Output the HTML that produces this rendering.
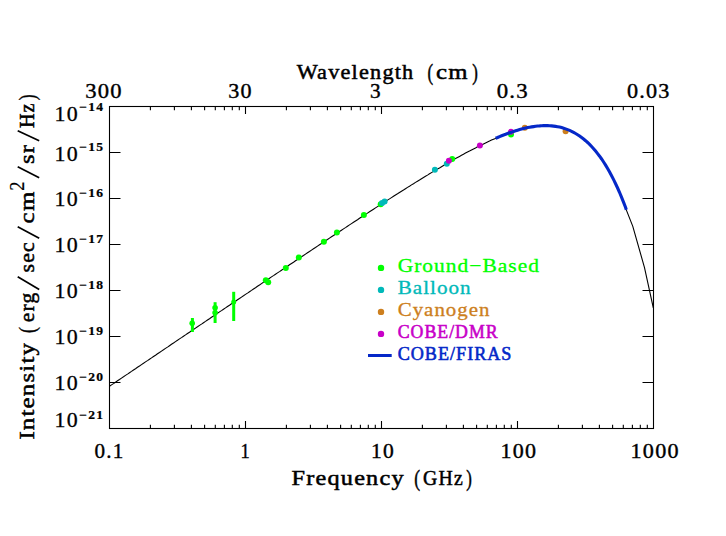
<!DOCTYPE html>
<html><head><meta charset="utf-8"><title>CMB spectrum</title>
<style>html,body{margin:0;padding:0;background:#fff;}svg{display:block;}</style></head>
<body>
<svg width="726" height="536" viewBox="0 0 726 536">
<rect width="726" height="536" fill="#fff"/>
<path d="M109.5,386.3 L111.5,384.9 L113.5,383.6 L115.5,382.2 L117.5,380.8 L119.5,379.5 L121.5,378.1 L123.5,376.8 L125.5,375.4 L127.5,374.1 L129.5,372.7 L131.5,371.4 L133.5,370.0 L135.5,368.7 L137.5,367.3 L139.5,366.0 L141.5,364.6 L143.5,363.3 L145.5,361.9 L147.5,360.6 L149.5,359.2 L151.5,357.9 L153.5,356.5 L155.5,355.2 L157.5,353.8 L159.5,352.5 L161.5,351.1 L163.5,349.8 L165.5,348.4 L167.5,347.1 L169.5,345.7 L171.5,344.3 L173.5,343.0 L175.5,341.6 L177.5,340.3 L179.5,338.9 L181.5,337.6 L183.5,336.2 L185.5,334.9 L187.5,333.5 L189.5,332.2 L191.5,330.8 L193.5,329.5 L195.5,328.1 L197.5,326.8 L199.5,325.4 L201.5,324.1 L203.5,322.7 L205.5,321.4 L207.5,320.0 L209.5,318.7 L211.5,317.3 L213.5,316.0 L215.5,314.6 L217.5,313.3 L219.5,311.9 L221.5,310.6 L223.5,309.2 L225.5,307.9 L227.5,306.5 L229.5,305.2 L231.5,303.8 L233.5,302.5 L235.5,301.2 L237.5,299.8 L239.5,298.5 L241.5,297.1 L243.5,295.8 L245.5,294.4 L247.5,293.1 L249.5,291.7 L251.5,290.4 L253.5,289.0 L255.5,287.7 L257.5,286.3 L259.5,285.0 L261.5,283.6 L263.5,282.3 L265.5,281.0 L267.5,279.6 L269.5,278.3 L271.5,276.9 L273.5,275.6 L275.5,274.2 L277.5,272.9 L279.5,271.6 L281.5,270.2 L283.5,268.9 L285.5,267.5 L287.5,266.2 L289.5,264.8 L291.5,263.5 L293.5,262.2 L295.5,260.8 L297.5,259.5 L299.5,258.1 L301.5,256.8 L303.5,255.5 L305.5,254.1 L307.5,252.8 L309.5,251.5 L311.5,250.1 L313.5,248.8 L315.5,247.5 L317.5,246.1 L319.5,244.8 L321.5,243.5 L323.5,242.1 L325.5,240.8 L327.5,239.5 L329.5,238.1 L331.5,236.8 L333.5,235.5 L335.5,234.2 L337.5,232.8 L339.5,231.5 L341.5,230.2 L343.5,228.9 L345.5,227.6 L347.5,226.2 L349.5,224.9 L351.5,223.6 L353.5,222.3 L355.5,221.0 L357.5,219.7 L359.5,218.3 L361.5,217.0 L363.5,215.7 L365.5,214.4 L367.5,213.1 L369.5,211.8 L371.5,210.5 L373.5,209.2 L375.5,207.9 L377.5,206.6 L379.5,205.3 L381.5,204.0 L383.5,202.7 L385.5,201.4 L387.5,200.1 L389.5,198.9 L391.5,197.6 L393.5,196.3 L395.5,195.0 L397.5,193.8 L399.5,192.5 L401.5,191.2 L403.5,190.0 L405.5,188.7 L407.5,187.4 L409.5,186.2 L411.5,184.9 L413.5,183.7 L415.5,182.4 L417.5,181.2 L419.5,180.0 L421.5,178.7 L423.5,177.5 L425.5,176.3 L427.5,175.1 L429.5,173.8 L431.5,172.6 L433.5,171.4 L435.5,170.2 L437.5,169.0 L439.5,167.9 L441.5,166.7 L443.5,165.5 L445.5,164.3 L447.5,163.2 L449.5,162.0 L451.5,160.9 L453.5,159.7 L455.5,158.6 L457.5,157.5 L459.5,156.4 L461.5,155.3 L463.5,154.2 L465.5,153.1 L467.5,152.0 L469.5,151.0 L471.5,149.9 L473.5,148.9 L475.5,147.9 L477.5,146.8 L479.5,145.8 L481.5,144.9 L483.5,143.9 L485.5,142.9 L487.5,142.0 L489.5,141.1 L491.5,140.1 L493.5,139.2 L495.5,138.4 L497.5,137.5 L499.5,136.7 L501.5,135.9 L503.5,135.1 L505.5,134.3 L507.5,133.6 L509.5,132.8 L511.5,132.1 L513.5,131.5 L515.5,130.8 L517.5,130.2 L519.5,129.6 L521.5,129.1 L523.5,128.6 L525.5,128.1 L527.5,127.7 L529.5,127.3 L531.5,126.9 L533.5,126.6 L535.5,126.3 L537.5,126.1 L539.5,125.9 L541.5,125.7 L543.5,125.6 L545.5,125.6 L547.5,125.6 L549.5,125.7 L551.5,125.9 L553.5,126.1 L555.5,126.3 L557.5,126.7 L559.5,127.1 L561.5,127.6 L563.5,128.2 L565.5,128.8 L567.5,129.6 L569.5,130.4 L571.5,131.3 L573.5,132.3 L575.5,133.4 L577.5,134.6 L579.5,136.0 L581.5,137.4 L583.5,138.9 L585.5,140.6 L587.5,142.4 L589.5,144.3 L591.5,146.4 L593.5,148.6 L595.5,150.9 L597.5,153.4 L599.5,156.1 L601.5,158.9 L603.5,161.8 L605.5,165.0 L607.5,168.3 L609.5,171.8 L611.5,175.5 L613.5,179.4 L615.5,183.5 L617.5,187.8 L619.5,192.3 L621.5,197.1 L623.5,202.0 L626.3,209.9 L632.8,226.4 L644.5,267.6 L653.3,307.8" fill="none" stroke="#000" stroke-width="1.1"/>
<rect x="190.9" y="318.0" width="3" height="14.0" fill="#00ff00"/>
<rect x="213.6" y="302.2" width="3" height="20.8" fill="#00ff00"/>
<rect x="232.2" y="291.8" width="3" height="29.2" fill="#00ff00"/>
<circle cx="192.2" cy="323.3" r="2.8" fill="#00ff00"/>
<circle cx="215.1" cy="307.8" r="2.8" fill="#00ff00"/>
<circle cx="215.1" cy="312.7" r="2.8" fill="#00ff00"/>
<circle cx="233.7" cy="302.1" r="2.5" fill="#00ff00"/>
<circle cx="265.8" cy="280.3" r="3.0" fill="#00ff00"/>
<circle cx="268.2" cy="282.3" r="3.0" fill="#00ff00"/>
<circle cx="285.8" cy="268.0" r="3.0" fill="#00ff00"/>
<circle cx="298.8" cy="257.6" r="3.0" fill="#00ff00"/>
<circle cx="323.9" cy="241.7" r="3.0" fill="#00ff00"/>
<circle cx="336.9" cy="232.4" r="3.0" fill="#00ff00"/>
<circle cx="363.9" cy="215.1" r="3.0" fill="#00ff00"/>
<circle cx="380.7" cy="204.2" r="3.0" fill="#00ff00"/>
<circle cx="452.2" cy="159.1" r="3.0" fill="#00ff00"/>
<circle cx="511.0" cy="134.4" r="3.0" fill="#00ff00"/>
<circle cx="524.8" cy="127.8" r="3.0" fill="#cd7f1e"/>
<circle cx="565.6" cy="131.2" r="3.0" fill="#cd7f1e"/>
<circle cx="382.1" cy="203.1" r="3.0" fill="#00b9b9"/>
<circle cx="384.6" cy="201.5" r="3.0" fill="#00b9b9"/>
<circle cx="434.9" cy="169.8" r="3.0" fill="#00b9b9"/>
<circle cx="446.8" cy="163.7" r="3.0" fill="#00b9b9"/>
<circle cx="448.9" cy="160.8" r="3.0" fill="#c800c8"/>
<circle cx="479.9" cy="145.4" r="3.0" fill="#c800c8"/>
<circle cx="510.9" cy="131.8" r="3.0" fill="#c800c8"/>
<path d="M495.6,138.3 L497.6,137.5 L499.6,136.6 L501.6,135.8 L503.6,135.0 L505.6,134.3 L507.6,133.5 L509.6,132.8 L511.6,132.1 L513.6,131.4 L515.6,130.8 L517.6,130.2 L519.6,129.6 L521.6,129.1 L523.6,128.6 L525.6,128.1 L527.6,127.6 L529.6,127.2 L531.6,126.9 L533.6,126.6 L535.6,126.3 L537.6,126.0 L539.6,125.9 L541.6,125.7 L543.6,125.6 L545.6,125.6 L547.6,125.6 L549.6,125.7 L551.6,125.9 L553.6,126.1 L555.6,126.4 L557.6,126.7 L559.6,127.1 L561.6,127.6 L563.6,128.2 L565.6,128.9 L567.6,129.6 L569.6,130.4 L571.6,131.3 L573.6,132.4 L575.6,133.5 L577.6,134.7 L579.6,136.0 L581.6,137.5 L583.6,139.0 L585.6,140.7 L587.6,142.5 L589.6,144.4 L591.6,146.5 L593.6,148.7 L595.6,151.1 L597.6,153.6 L599.6,156.2 L601.6,159.0 L603.6,162.0 L605.6,165.1 L607.6,168.5 L609.6,172.0 L611.6,175.7 L613.6,179.6 L615.6,183.7 L617.6,188.0 L619.6,192.5 L621.6,197.3 L623.6,202.3 L625.6,207.5 L626.3,209.8" fill="none" stroke="#0528c8" stroke-width="3.1" stroke-linecap="butt"/>
<rect x="109.5" y="106.5" width="544.0" height="322.0" fill="none" stroke="#000" stroke-width="1.1"/>
<path d="M150.4,428.5v-3.8M150.4,106.5v3.8M174.4,428.5v-3.8M174.4,106.5v3.8M191.4,428.5v-3.8M191.4,106.5v3.8M204.6,428.5v-3.8M204.6,106.5v3.8M215.3,428.5v-3.8M215.3,106.5v3.8M224.4,428.5v-3.8M224.4,106.5v3.8M232.3,428.5v-3.8M232.3,106.5v3.8M239.3,428.5v-3.8M239.3,106.5v3.8M245.5,428.5v-7.5M245.5,106.5v7.5M286.4,428.5v-3.8M286.4,106.5v3.8M310.4,428.5v-3.8M310.4,106.5v3.8M327.4,428.5v-3.8M327.4,106.5v3.8M340.6,428.5v-3.8M340.6,106.5v3.8M351.3,428.5v-3.8M351.3,106.5v3.8M360.4,428.5v-3.8M360.4,106.5v3.8M368.3,428.5v-3.8M368.3,106.5v3.8M375.3,428.5v-3.8M375.3,106.5v3.8M381.5,428.5v-7.5M381.5,106.5v7.5M422.4,428.5v-3.8M422.4,106.5v3.8M446.4,428.5v-3.8M446.4,106.5v3.8M463.4,428.5v-3.8M463.4,106.5v3.8M476.6,428.5v-3.8M476.6,106.5v3.8M487.3,428.5v-3.8M487.3,106.5v3.8M496.4,428.5v-3.8M496.4,106.5v3.8M504.3,428.5v-3.8M504.3,106.5v3.8M511.3,428.5v-3.8M511.3,106.5v3.8M517.5,428.5v-7.5M517.5,106.5v7.5M558.4,428.5v-3.8M558.4,106.5v3.8M582.4,428.5v-3.8M582.4,106.5v3.8M599.4,428.5v-3.8M599.4,106.5v3.8M612.6,428.5v-3.8M612.6,106.5v3.8M623.3,428.5v-3.8M623.3,106.5v3.8M632.4,428.5v-3.8M632.4,106.5v3.8M640.3,428.5v-3.8M640.3,106.5v3.8M647.3,428.5v-3.8M647.3,106.5v3.8M109.5,152.5h11M653.5,152.5h-11M109.5,198.5h11M653.5,198.5h-11M109.5,244.5h11M653.5,244.5h-11M109.5,290.5h11M653.5,290.5h-11M109.5,336.5h11M653.5,336.5h-11M109.5,382.5h11M653.5,382.5h-11" fill="none" stroke="#000" stroke-width="1.1"/>
<text transform="translate(94.5,458) scale(1.030,1)" font-family="Liberation Serif, serif" font-size="20.5" font-weight="normal" fill="#000" stroke="#000" stroke-width="0.38" textLength="27.95" lengthAdjust="spacing">0.1</text>
<text transform="translate(240.6,458) scale(0.898,1)" font-family="Liberation Serif, serif" font-size="20.5" font-weight="normal" fill="#000" stroke="#000" stroke-width="0.38">1</text>
<text transform="translate(371,458) scale(1.049,1)" font-family="Liberation Serif, serif" font-size="20.5" font-weight="normal" fill="#000" stroke="#000" stroke-width="0.38" textLength="21.64" lengthAdjust="spacing">10</text>
<text transform="translate(500.6,458) scale(1.073,1)" font-family="Liberation Serif, serif" font-size="20.5" font-weight="normal" fill="#000" stroke="#000" stroke-width="0.38" textLength="32.99" lengthAdjust="spacing">100</text>
<text transform="translate(630.6,458) scale(1.080,1)" font-family="Liberation Serif, serif" font-size="20.5" font-weight="normal" fill="#000" stroke="#000" stroke-width="0.38" textLength="44.33" lengthAdjust="spacing">1000</text>
<text transform="translate(85.2,98) scale(1.102,1)" font-family="Liberation Serif, serif" font-size="20.5" font-weight="normal" fill="#000" stroke="#000" stroke-width="0.38" textLength="32.93" lengthAdjust="spacing">300</text>
<text transform="translate(228.2,98) scale(1.078,1)" font-family="Liberation Serif, serif" font-size="20.5" font-weight="normal" fill="#000" stroke="#000" stroke-width="0.38" textLength="21.61" lengthAdjust="spacing">30</text>
<text transform="translate(370,98) scale(1.034,1)" font-family="Liberation Serif, serif" font-size="20.5" font-weight="normal" fill="#000" stroke="#000" stroke-width="0.38">3</text>
<text transform="translate(496.7,98) scale(1.112,1)" font-family="Liberation Serif, serif" font-size="20.5" font-weight="normal" fill="#000" stroke="#000" stroke-width="0.38" textLength="27.78" lengthAdjust="spacing">0.3</text>
<text transform="translate(627,98) scale(1.082,1)" font-family="Liberation Serif, serif" font-size="20.5" font-weight="normal" fill="#000" stroke="#000" stroke-width="0.38" textLength="39.20" lengthAdjust="spacing">0.03</text>
<text transform="translate(296.7,78.8) scale(1.060,1)" font-family="Liberation Serif, serif" font-size="21" font-weight="normal" fill="#000" stroke="#000" stroke-width="0.5" textLength="109.95" lengthAdjust="spacing">Wavelength</text>
<text transform="translate(427.6,79.8) scale(0.701,1)" font-family="Liberation Serif, serif" font-size="24" font-weight="normal" fill="#000" stroke="#000" stroke-width="0.5">(</text>
<text transform="translate(436,78.8) scale(1.180,1)" font-family="Liberation Serif, serif" font-size="21" font-weight="normal" fill="#000" stroke="#000" stroke-width="0.5" textLength="26.78" lengthAdjust="spacing">cm</text>
<text transform="translate(472.2,79.8) scale(0.701,1)" font-family="Liberation Serif, serif" font-size="24" font-weight="normal" fill="#000" stroke="#000" stroke-width="0.5">)</text>
<text transform="translate(291.5,484.5) scale(1.156,1)" font-family="Liberation Serif, serif" font-size="21" font-weight="normal" fill="#000" stroke="#000" stroke-width="0.5" textLength="96.94" lengthAdjust="spacing">Frequency</text>
<text transform="translate(414.2,485.5) scale(0.726,1)" font-family="Liberation Serif, serif" font-size="24" font-weight="normal" fill="#000" stroke="#000" stroke-width="0.5">(</text>
<text transform="translate(423,484.5) scale(0.941,1)" font-family="Liberation Serif, serif" font-size="21" font-weight="normal" fill="#000" stroke="#000" stroke-width="0.5" textLength="42.20" lengthAdjust="spacing">GHz</text>
<text transform="translate(466.2,485.5) scale(0.701,1)" font-family="Liberation Serif, serif" font-size="24" font-weight="normal" fill="#000" stroke="#000" stroke-width="0.5">)</text>
<text transform="translate(54.5,120.8) scale(1.068,1)" font-family="Liberation Serif, serif" font-size="20.5" font-weight="normal" fill="#000" stroke="#000" stroke-width="0.3" textLength="21.62" lengthAdjust="spacing">10</text>
<text transform="translate(79.3,111.2) scale(1.131,1)" font-family="Liberation Serif, serif" font-size="12" font-weight="bold" fill="#000" stroke="#000" stroke-width="0.2" textLength="20.96" lengthAdjust="spacing">−14</text>
<text transform="translate(54.5,160.5) scale(1.068,1)" font-family="Liberation Serif, serif" font-size="20.5" font-weight="normal" fill="#000" stroke="#000" stroke-width="0.3" textLength="21.62" lengthAdjust="spacing">10</text>
<text transform="translate(79.3,150.9) scale(1.131,1)" font-family="Liberation Serif, serif" font-size="12" font-weight="bold" fill="#000" stroke="#000" stroke-width="0.2" textLength="20.96" lengthAdjust="spacing">−15</text>
<text transform="translate(54.5,206.4) scale(1.068,1)" font-family="Liberation Serif, serif" font-size="20.5" font-weight="normal" fill="#000" stroke="#000" stroke-width="0.3" textLength="21.62" lengthAdjust="spacing">10</text>
<text transform="translate(79.3,196.8) scale(1.131,1)" font-family="Liberation Serif, serif" font-size="12" font-weight="bold" fill="#000" stroke="#000" stroke-width="0.2" textLength="20.96" lengthAdjust="spacing">−16</text>
<text transform="translate(54.5,252.4) scale(1.068,1)" font-family="Liberation Serif, serif" font-size="20.5" font-weight="normal" fill="#000" stroke="#000" stroke-width="0.3" textLength="21.62" lengthAdjust="spacing">10</text>
<text transform="translate(79.3,242.8) scale(1.131,1)" font-family="Liberation Serif, serif" font-size="12" font-weight="bold" fill="#000" stroke="#000" stroke-width="0.2" textLength="20.96" lengthAdjust="spacing">−17</text>
<text transform="translate(54.5,298.4) scale(1.068,1)" font-family="Liberation Serif, serif" font-size="20.5" font-weight="normal" fill="#000" stroke="#000" stroke-width="0.3" textLength="21.62" lengthAdjust="spacing">10</text>
<text transform="translate(79.3,288.79999999999995) scale(1.131,1)" font-family="Liberation Serif, serif" font-size="12" font-weight="bold" fill="#000" stroke="#000" stroke-width="0.2" textLength="20.96" lengthAdjust="spacing">−18</text>
<text transform="translate(54.5,344.4) scale(1.068,1)" font-family="Liberation Serif, serif" font-size="20.5" font-weight="normal" fill="#000" stroke="#000" stroke-width="0.3" textLength="21.62" lengthAdjust="spacing">10</text>
<text transform="translate(79.3,334.79999999999995) scale(1.131,1)" font-family="Liberation Serif, serif" font-size="12" font-weight="bold" fill="#000" stroke="#000" stroke-width="0.2" textLength="20.96" lengthAdjust="spacing">−19</text>
<text transform="translate(54.5,390.4) scale(1.068,1)" font-family="Liberation Serif, serif" font-size="20.5" font-weight="normal" fill="#000" stroke="#000" stroke-width="0.3" textLength="21.62" lengthAdjust="spacing">10</text>
<text transform="translate(79.3,380.79999999999995) scale(1.131,1)" font-family="Liberation Serif, serif" font-size="12" font-weight="bold" fill="#000" stroke="#000" stroke-width="0.2" textLength="20.96" lengthAdjust="spacing">−20</text>
<text transform="translate(54.5,427) scale(1.068,1)" font-family="Liberation Serif, serif" font-size="20.5" font-weight="normal" fill="#000" stroke="#000" stroke-width="0.3" textLength="21.62" lengthAdjust="spacing">10</text>
<text transform="translate(79.3,418.9) scale(1.131,1)" font-family="Liberation Serif, serif" font-size="12" font-weight="bold" fill="#000" stroke="#000" stroke-width="0.2" textLength="20.96" lengthAdjust="spacing">−21</text>
<text transform="translate(34,439.6) rotate(-90) scale(1.180,1)" font-family="Liberation Serif, serif" font-size="21" font-weight="normal" fill="#000" stroke="#000" stroke-width="0.5" textLength="81.86" lengthAdjust="spacing">Intensity</text>
<text transform="translate(35,333) rotate(-90) scale(0.726,1)" font-family="Liberation Serif, serif" font-size="24" font-weight="normal" fill="#000" stroke="#000" stroke-width="0.5">(</text>
<text transform="translate(34,322.2) rotate(-90) scale(1.025,1)" font-family="Liberation Serif, serif" font-size="21" font-weight="normal" fill="#000" stroke="#000" stroke-width="0.5" textLength="28.78" lengthAdjust="spacing">erg</text>
<text transform="translate(34,272.5) rotate(-90) scale(1.037,1)" font-family="Liberation Serif, serif" font-size="21" font-weight="normal" fill="#000" stroke="#000" stroke-width="0.5" textLength="29.13" lengthAdjust="spacing">sec</text>
<text transform="translate(34,223.4) rotate(-90) scale(1.180,1)" font-family="Liberation Serif, serif" font-size="21" font-weight="normal" fill="#000" stroke="#000" stroke-width="0.5" textLength="26.86" lengthAdjust="spacing">cm</text>
<text transform="translate(24.3,190.8) rotate(-90) scale(0.907,1)" font-family="Liberation Serif, serif" font-size="20.5" font-weight="normal" fill="#000" stroke="#000" stroke-width="0.2">2</text>
<text transform="translate(34,164) rotate(-90) scale(1.174,1)" font-family="Liberation Serif, serif" font-size="21" font-weight="normal" fill="#000" stroke="#000" stroke-width="0.5" textLength="16.19" lengthAdjust="spacing">sr</text>
<text transform="translate(34,128.1) rotate(-90) scale(0.956,1)" font-family="Liberation Serif, serif" font-size="21" font-weight="normal" fill="#000" stroke="#000" stroke-width="0.5" textLength="25.74" lengthAdjust="spacing">Hz</text>
<text transform="translate(35,100.3) rotate(-90) scale(0.726,1)" font-family="Liberation Serif, serif" font-size="24" font-weight="normal" fill="#000" stroke="#000" stroke-width="0.5">)</text>
<line x1="39.2" y1="289.59999999999997" x2="17.7" y2="276.7" stroke="#000" stroke-width="1.7"/>
<line x1="39.2" y1="238.2" x2="17.7" y2="226.8" stroke="#000" stroke-width="1.7"/>
<line x1="39.2" y1="177.7" x2="17.7" y2="166.8" stroke="#000" stroke-width="1.7"/>
<line x1="39.2" y1="140.7" x2="17.7" y2="130.8" stroke="#000" stroke-width="1.7"/>
<text transform="translate(397.7,271.6) scale(1.131,1)" font-family="Liberation Serif, serif" font-size="19" font-weight="normal" fill="#00ff00" stroke="#00ff00" stroke-width="0.32" textLength="124.92" lengthAdjust="spacing">Ground−Based</text>
<circle cx="381.0" cy="267.9" r="3.2" fill="#00ff00"/>
<text transform="translate(397.7,293.6) scale(1.114,1)" font-family="Liberation Serif, serif" font-size="19" font-weight="normal" fill="#00b9b9" stroke="#00b9b9" stroke-width="0.32" textLength="65.55" lengthAdjust="spacing">Balloon</text>
<circle cx="381.0" cy="289.9" r="3.2" fill="#00b9b9"/>
<text transform="translate(397.7,315.6) scale(1.101,1)" font-family="Liberation Serif, serif" font-size="19" font-weight="normal" fill="#cd7f1e" stroke="#cd7f1e" stroke-width="0.32" textLength="83.40" lengthAdjust="spacing">Cyanogen</text>
<circle cx="381.0" cy="311.9" r="3.2" fill="#cd7f1e"/>
<text transform="translate(397.7,337.6) scale(0.937,1)" font-family="Liberation Serif, serif" font-size="19" font-weight="normal" fill="#c800c8" stroke="#c800c8" stroke-width="0.6" textLength="106.71" lengthAdjust="spacing">COBE/DMR</text>
<circle cx="381.0" cy="333.9" r="3.2" fill="#c800c8"/>
<text transform="translate(397.7,359.6) scale(0.954,1)" font-family="Liberation Serif, serif" font-size="19" font-weight="normal" fill="#0528c8" stroke="#0528c8" stroke-width="0.6" textLength="119.24" lengthAdjust="spacing">COBE/FIRAS</text>
<rect x="368" y="354" width="23.7" height="3" fill="#0528c8"/>
</svg>
</body></html>
